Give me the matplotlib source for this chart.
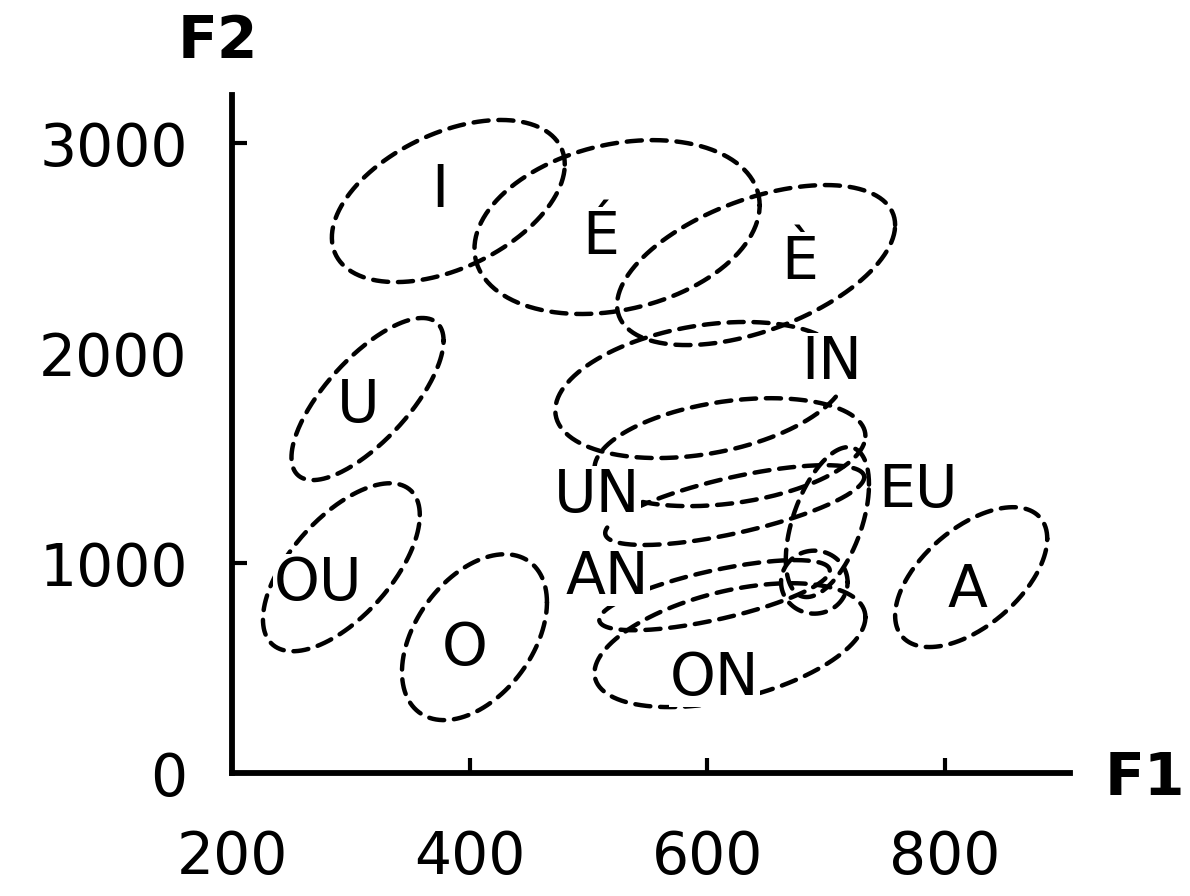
"""
French vowel areas in the F1/F2 plane, drawn as dashed dispersion ellipses.
"""
import numpy as np
import matplotlib.pyplot as plt

OUT = 'out.png'

# dispersion ellipses: centre, half-extent along each axis, tilt (correlation)
ELLIPSE_IDS = ['I', 'E_acute', 'E_grave', 'U', 'OU', 'O', 'A', 'IN', 'UN',
               'UN_EU', 'EU', 'AN', 'EU_small', 'ON']
F1_CENTRE = [382, 524, 641, 314, 292, 404, 822, 595, 619, 623, 701, 606, 690, 619]
F2_CENTRE = [2725, 2601, 2420, 1782, 981, 648, 934, 1825, 1529, 1277, 1196, 848, 910, 610]
F1_SPREAD = [98, 120, 117, 64, 66, 61, 64, 123, 114, 109, 35, 97, 28, 114]
F2_SPREAD = [386, 414, 381, 386, 400, 395, 333, 324, 257, 190, 357, 167, 150, 295]
TILT = [0.45, 0.25, 0.5, 0.72, 0.62, 0.42, 0.55, 0.3, 0.3, 0.7, 0.5, 0.7, 0.0, 0.45]

# vowel labels
LABELS = ['I', 'É', 'È', 'IN', 'U', 'UN', 'EU', 'OU', 'O', 'AN', 'A', 'ON']
LABEL_F1 = [375, 510, 678, 705, 306, 507, 777, 272, 396, 516, 819, 606]
LABEL_F2 = [2777, 2553, 2434, 1958, 1753, 1324, 1348, 905, 595, 934, 872, 453]

X_TICKS = [200, 400, 600, 800]
Y_TICKS = [0, 1000, 2000, 3000]


def ellipse_points(cx, cy, sx, sy, r, n=240):
    t = np.linspace(0, 2 * np.pi, n)
    x = cx + sx * np.cos(t)
    y = cy + sy * (r * np.cos(t) + np.sqrt(1 - r ** 2) * np.sin(t))
    return x, y


def plot_vowels(output_filename):
    fig = plt.figure(figsize=(11.9, 8.96), dpi=100)
    ax = fig.add_axes([0.195, 0.137, 0.704, 0.757])

    for cx, cy, sx, sy, r in zip(F1_CENTRE, F2_CENTRE, F1_SPREAD, F2_SPREAD, TILT):
        x, y = ellipse_points(cx, cy, sx, sy, r)
        ax.plot(x, y, color='black', lw=3.2, dashes=(3.4, 2.2),
                dash_capstyle='round')

    # labels sit on a white patch so the dashes stop short of the letters
    for label, f1, f2 in zip(LABELS, LABEL_F1, LABEL_F2):
        ax.text(f1, f2, label, fontsize=42, ha='center', va='center', zorder=5,
                bbox=dict(facecolor='white', edgecolor='none', pad=0.5))

    ax.set_xlim(200, 905)
    ax.set_ylim(0, 3230)
    for side in ['top', 'right']:
        ax.spines[side].set_visible(False)
    for side in ['left', 'bottom']:
        ax.spines[side].set_linewidth(4.2)
    ax.set_xticks(X_TICKS)
    ax.set_yticks(Y_TICKS)
    ax.tick_params(direction='in', length=11, width=3, labelsize=42)
    ax.tick_params(axis='x', pad=40)
    ax.tick_params(axis='y', pad=32)
    ax.yaxis.get_major_ticks()[2].tick1line.set_visible(False)

    fig.text(218 / 1190, 1 - 42 / 896, 'F2', fontsize=42, fontweight='bold',
             ha='center', va='center')
    fig.text(1145 / 1190, 1 - 778 / 896, 'F1', fontsize=42, fontweight='bold',
             ha='center', va='center')

    fig.savefig(output_filename, dpi=100)


if __name__ == "__main__":
    plot_vowels(OUT)
